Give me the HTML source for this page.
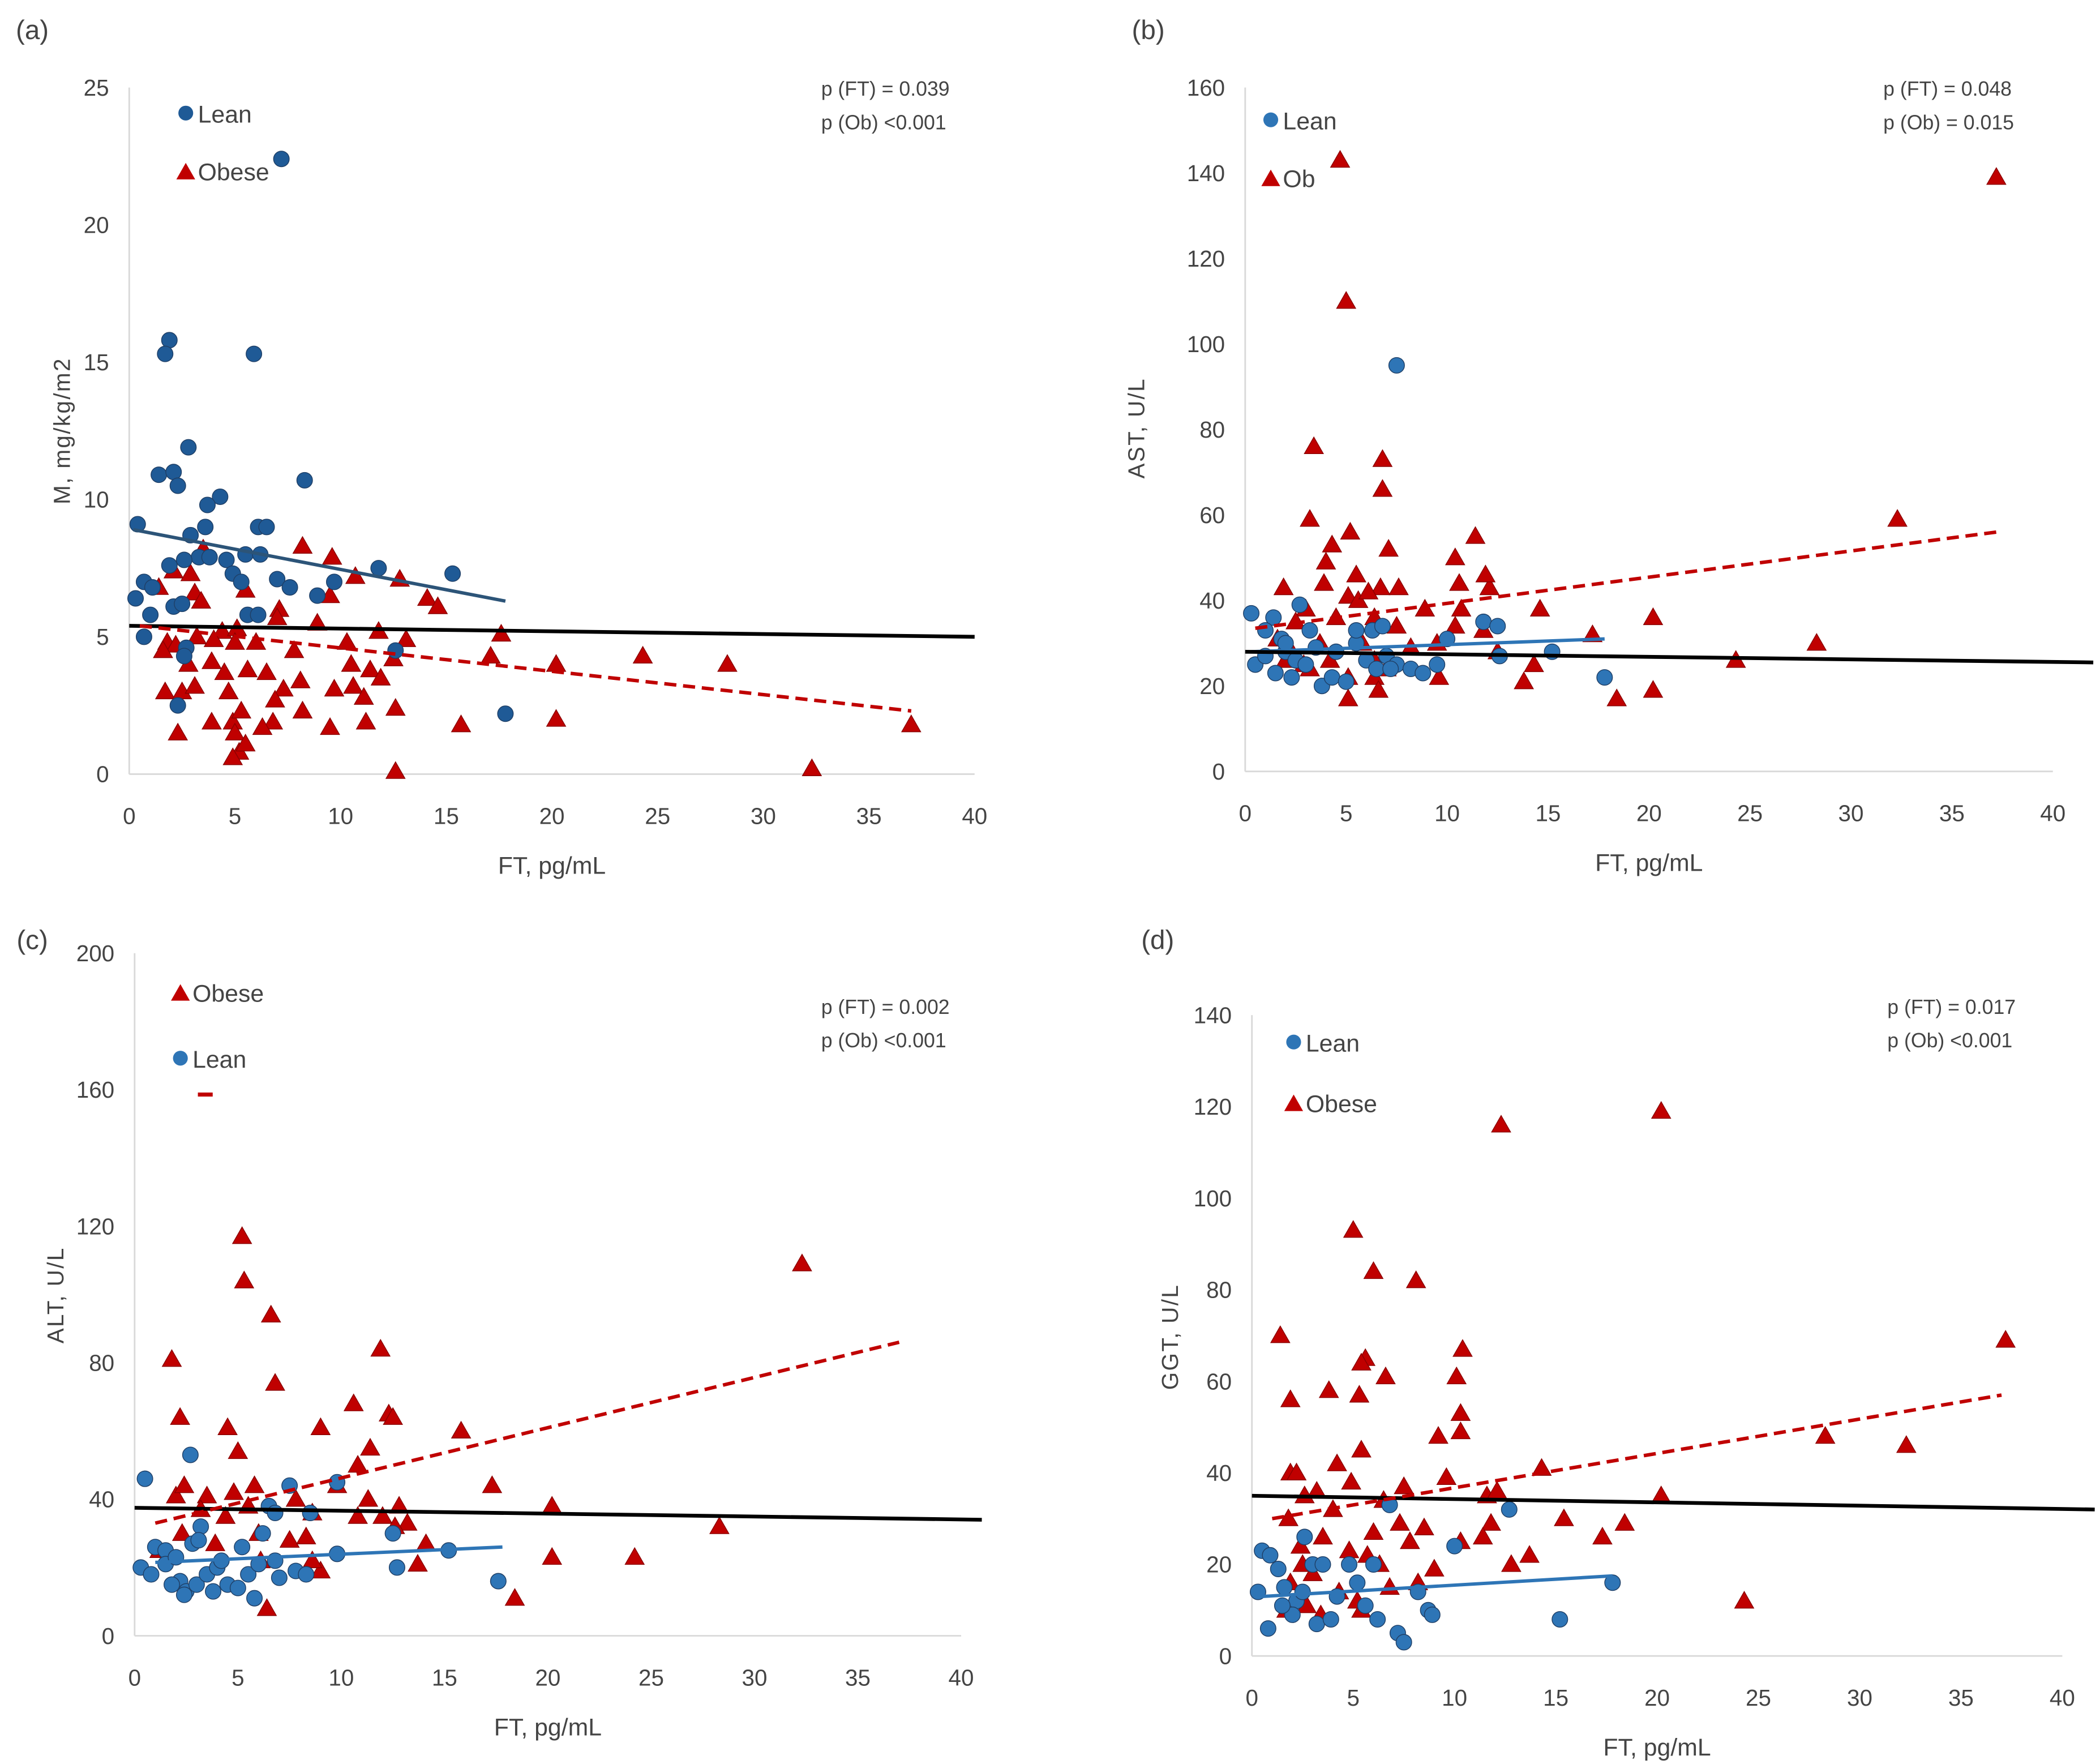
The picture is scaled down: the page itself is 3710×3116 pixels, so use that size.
<!DOCTYPE html>
<html><head><meta charset="utf-8"><style>
html,body{margin:0;padding:0;background:#fff;}
svg{display:block;}
text{font-family:"Liberation Sans Narrow","Liberation Sans",sans-serif;fill:#444;}
</style></head><body>
<svg id="fig" width="3710" height="3116" viewBox="0 0 1560 1310.24" preserveAspectRatio="none" xmlns="http://www.w3.org/2000/svg"></svg>
<script>
// ---------- data ----------
const aLeanX=[7.2,1.9,1.7,5.9,1.4,2.1,2.3,2.8,8.3,4.3,3.7,0.4,3.6,6.1,6.5,2.9,3.3,3.8,4.6,5.5,6.2,1.9,2.6,4.9,5.3,7,7.6,9.7,11.8,15.3,0.7,1.1,2.1,2.5,8.9,0.3,1.0,5.6,6.1,0.7,2.7,2.6,2.3,12.6,17.8];
const aLeanY=[22.4,15.8,15.3,15.3,10.9,11,10.5,11.9,10.7,10.1,9.8,9.1,9,9,9,8.7,7.9,7.9,7.8,8,8,7.6,7.8,7.3,7,7.1,6.8,7,7.5,7.3,7,6.8,6.1,6.2,6.5,6.4,5.8,5.8,5.8,5,4.6,4.3,2.5,4.5,2.2];
const aObX=[8.2,9.6,3.5,2.1,2.9,1.4,10.7,12.8,14.1,14.6,3.1,5.5,9.5,3.4,7.1,8.9,11.8,7,17.6,4.4,3.2,5.1,1.8,2.2,1.6,4,5,6,7.8,10.3,12.5,13.1,17.1,2.8,3.9,4.5,5.6,6.5,7.3,8.1,10.5,11.4,11.9,20.2,24.3,28.3,1.7,2.5,3.1,4.7,6.9,8.2,9.7,10.6,11.1,12.6,3.9,4.9,5.3,6.8,9.5,11.2,15.7,20.2,2.3,5,5.2,4.9,5.5,6.3,12.6,32.3,37];
const aObY=[8.3,7.9,8.2,7.4,7.3,6.8,7.2,7.1,6.4,6.1,6.6,6.7,6.5,6.3,6,5.5,5.2,5.7,5.1,5.2,5,5.3,4.8,4.7,4.5,4.9,4.8,4.8,4.5,4.8,4.2,4.9,4.3,4,4.1,3.7,3.8,3.7,3.1,3.4,4,3.8,3.5,4,4.3,4,3,3,3.2,3,2.7,2.3,3.1,3.2,2.8,2.4,1.9,1.9,2.3,1.9,1.7,1.9,1.8,2,1.5,1.5,0.8,0.6,1.1,1.7,0.1,0.2,1.8];
const aLines=[[0.2,8.9,17.8,6.3],[0,5.4,40,5.0],[0.5,5.4,37,2.3]];

const bLeanX=[0.5,1,0.3,1.4,2.7,1,1.8,3.2,2,2.5,3.5,1.5,2.3,3.8,4.3,5,4.5,5.5,6,6.5,7,7.5,6.3,7.2,8.2,8.8,9.5,10,11.8,12.5,12.6,15.2,17.8,7.5,2,3,5.5,6.8];
const bLeanY=[25,27,37,36,39,33,31,33,28,26,29,23,22,20,22,21,28,30,26,24,27,25,33,24,24,23,25,31,35,34,27,28,22,95,30,25,33,34];
const bObX=[4.7,5,37.2,3.4,6.8,6.8,3.2,32.3,5.2,4.3,7.1,11.4,4,10.4,5.5,3.9,1.9,6.7,7.6,10.6,12.1,11.9,5.1,5.6,6.1,3,8.9,10.7,14.6,20.2,4.5,6.4,2.5,7.5,10.4,11.8,17.2,1.6,3.7,5.8,8.2,9.5,28.3,2,4.2,6.4,12.5,14.3,24.3,2.9,5.1,6.4,9.6,13.8,6.6,5.1,18.4,20.2,2.3,7,3.2];
const bObY=[143,110,139,76,73,66,59,59,56,53,52,55,49,50,46,44,43,43,43,44,43,46,41,40,42,38,38,38,38,36,36,36,35,34,34,33,32,31,30,30,29,30,30,26,26,26,28,25,26,25,22,22,22,21,19,17,17,19,28,24,24];
const bLines=[[0.3,28,17.8,31],[0,28,42,25.5],[0.5,33.5,37.2,56]];

const cLeanX=[0.5,2.7,7.5,9.8,6.5,6.8,8.5,3.2,6.2,12.5,2.8,5.2,1,1.5,0.3,0.8,1.5,2,2.2,2.5,3,3.5,4,4.5,5,5.5,6,7,7.8,8.3,9.8,12.7,15.2,17.6,1.8,3.8,2.4,5.8,6.8,4.2,3.1];
const cLeanY=[46,53,44,45,38,36,36,32,30,30,27,26,26,25,20,18,21,23,16,13,15,18,20,15,14,18,21,17,19,18,24,20,25,16,15,13,12,11,22,22,28];
const cObX=[1.8,5.2,5.3,6.6,6.8,2.2,4.5,5,9,10.6,11.9,12.3,12.5,15.8,11.4,10.8,3.5,2,4.8,5.8,7.8,9.8,11.3,8.6,5.5,3.2,2.4,12,12.8,13.2,17.3,20.2,12.6,14.1,7.5,8.3,2.3,1.2,3.9,6,9,6.1,13.7,20.2,24.2,28.3,18.4,6.4,32.3,8.6,4.4,10.8];
const cObY=[81,117,104,94,74,64,61,54,61,68,84,65,64,60,55,50,41,41,42,44,40,44,40,36,38,37,44,35,38,33,44,38,32,27,28,29,30,25,27,30,19,22,21,23,23,32,11,8,109,22,35,35];
const cLines=[[1,21.5,17.8,26],[0,37.5,41,34],[1,33,37,86]];

const dLeanX=[0.5,0.9,1.3,0.3,0.8,1.6,2.2,2.5,3,3.5,2.6,4.8,6,6.8,5.2,5.6,6.2,7.2,7.5,8.7,8.9,10,12.7,15.2,17.8,2,3.2,3.9,1.5,4.2,8.2];
const dLeanY=[23,22,19,14,6,15,12,14,20,20,26,20,20,33,16,11,8,5,3,10,9,24,32,8,16,9,7,8,11,13,14];
const dObX=[12.3,20.2,5,6,8.1,1.4,37.2,10.4,5.6,5.4,6.6,10.1,1.9,3.8,5.3,10.3,10.3,9.2,28.3,32.3,5.4,4.2,1.9,2.2,7.5,9.6,14.3,3.2,2.6,6.5,4.9,11.6,12.1,20.2,15.4,18.4,17.3,11.8,8.5,4,1.8,3.5,6,7.3,2.4,4.8,5.7,7.8,10.3,11.4,2.5,6.3,13.7,12.8,3,1.9,4.3,5.2,6.8,2.7,3.4,24.3,1.7,9,5.4,8.2];
const dObY=[116,119,93,84,82,70,69,67,65,64,61,61,56,58,57,53,49,48,48,46,45,42,40,40,37,39,41,36,35,34,38,35,36,35,30,29,26,29,28,32,30,26,27,29,24,23,22,25,25,26,20,20,22,20,18,16,14,12,15,11,9,12,10,19,10,16];
const dLines=[[0.5,13,17.8,17.5],[0,35,41.6,32],[1,30,37,57]];

const xTicks=[0,5,10,15,20,25,30,35,40];
const aYTicks=[0,5,10,15,20,25];
const bYTicks=[0,20,40,60,80,100,120,140,160];
const cYTicks=[0,40,80,120,160,200];
const dYTicks=[0,20,40,60,80,100,120,140];

// ---------- drawing ----------
const NS="http://www.w3.org/2000/svg";
const svg=document.getElementById('fig');
function mk(tag,attrs,parent){const e=document.createElementNS(NS,tag);for(const k in attrs)e.setAttribute(k,attrs[k]);(parent||svg).appendChild(e);return e;}
function txt(s,x,y,size,parent,anchor,extra){const t=mk('text',Object.assign({x:x,y:y,'font-size':size,'text-anchor':anchor||'middle'},extra||{}),parent);t.textContent=s;return t;}

function panel(cfg){
  const g=mk('g',{});
  
  
  const sx=v=>cfg.x0+(v/40)*(cfg.x1-cfg.x0);
  const sy=v=>cfg.y0-(v/cfg.ymax)*(cfg.y0-cfg.y1);
  const ax=mk('line',{x1:cfg.x0,y1:cfg.y1,x2:cfg.x0,y2:cfg.y0,stroke:'#d9d9d9','stroke-width':1.2},g);
  
  const bx=mk('line',{x1:cfg.x0,y1:cfg.y0,x2:cfg.x1,y2:cfg.y0,stroke:'#d9d9d9','stroke-width':1.2},g);
  
  cfg.yTicks.forEach(v=>{const t=txt(String(v),cfg.x0-15,sy(v)+6,17,g,'end');});
  xTicks.forEach(v=>{const t=txt(String(v),sx(v),cfg.y0+37,17,g);});
  const xt=txt('FT, pg/mL',(cfg.x0+cfg.x1)/2,cfg.y0+74,18,g);
  const yt=txt(cfg.ytitle,0,0,17,g,'middle',{transform:'translate('+cfg.ytx+','+cfg.yty+') rotate(-90)','font-family':'"Liberation Sans",sans-serif','letter-spacing':'1'});
  
  const pl=txt(cfg.label,cfg.lx,cfg.ly,20,g,'middle',{fill:'#222'});
  const p1=txt(cfg.p1,cfg.px,cfg.py,15,g,'start',{fill:'#222'});
  const p2=txt(cfg.p2,cfg.px,cfg.py+25,15,g,'start',{fill:'#222'});
  // points
  const tri=(x,y)=>{const s=7;return (x)+','+(y-s)+' '+(x-s)+','+(y+s*0.75)+' '+(x+s)+','+(y+s*0.75);};
  cfg.obX.forEach((v,i)=>{const p=mk('polygon',{points:tri(sx(v),sy(cfg.obY[i])),fill:'#c00000',stroke:'#8b0000','stroke-width':0.6},g);
    });
  cfg.leanX.forEach((v,i)=>{const c=mk('circle',{cx:sx(v),cy:sy(cfg.leanY[i]),r:5.8,fill:cfg.leanColor,stroke:'#1f3f66','stroke-width':0.6},g);
    });
  // lines
  const L=cfg.lines;
  const l1=mk('line',{x1:sx(L[0][0]),y1:sy(L[0][1]),x2:sx(L[0][2]),y2:sy(L[0][3]),stroke:cfg.leanLine,'stroke-width':2.5},g);
  
  const l2=mk('line',{x1:sx(L[1][0]),y1:sy(L[1][1]),x2:sx(L[1][2]),y2:sy(L[1][3]),stroke:'#000','stroke-width':2.8},g);
  
  const l3=mk('line',{x1:sx(L[2][0]),y1:sy(L[2][1]),x2:sx(L[2][2]),y2:sy(L[2][3]),stroke:'#c00000','stroke-width':2.6,'stroke-dasharray':'9,5'},g);
  
  // legend
  cfg.legend.forEach(e=>{
    const lg=mk('g',{},g);
    
    
    if(e.k==='c')mk('circle',{cx:e.x,cy:e.y,r:5.5,fill:cfg.leanColor},lg);
    else mk('polygon',{points:tri(e.x,e.y+1),fill:'#c00000'},lg);
    txt(e.t,e.x+9,e.y+7,18,lg,'start');
  });
}

panel({name:'panel-a',x0:96,x1:724,y0:575,y1:65,ymax:25,yTicks:aYTicks,ytitle:'M, mg/kg/m2',ytx:52,yty:320,label:'(a)',lx:24,ly:29,
  p1:'p (FT) = 0.039',p2:'p (Ob) <0.001',px:610,py:71,leanX:aLeanX,leanY:aLeanY,obX:aObX,obY:aObY,lines:aLines,
  leanColor:'#1f5a96',leanLine:'#2c5478',legend:[{k:'c',x:138,y:84,t:'Lean'},{k:'t',x:138,y:127,t:'Obese'}]});
panel({name:'panel-b',x0:925,x1:1525,y0:573,y1:65,ymax:160,yTicks:bYTicks,ytitle:'AST, U/L',ytx:850,yty:318,label:'(b)',lx:853,ly:29,
  p1:'p (FT) = 0.048',p2:'p (Ob) = 0.015',px:1399,py:71,leanX:bLeanX,leanY:bLeanY,obX:bObX,obY:bObY,lines:bLines,
  leanColor:'#2e75b6',leanLine:'#2e75b6',legend:[{k:'c',x:944,y:89,t:'Lean'},{k:'t',x:944,y:132,t:'Ob'}]});
panel({name:'panel-c',x0:100,x1:714,y0:1215,y1:708,ymax:200,yTicks:cYTicks,ytitle:'ALT, U/L',ytx:47,yty:962,label:'(c)',lx:24,ly:705,
  p1:'p (FT) = 0.002',p2:'p (Ob) <0.001',px:610,py:753,leanX:cLeanX,leanY:cLeanY,obX:cObX,obY:cObY,lines:cLines,
  leanColor:'#2e75b6',leanLine:'#2e75b6',legend:[{k:'t',x:134,y:737,t:'Obese'},{k:'c',x:134,y:786,t:'Lean'}]});
panel({name:'panel-d',x0:930,x1:1532,y0:1230,y1:754,ymax:140,yTicks:dYTicks,ytitle:'GGT, U/L',ytx:875,yty:993,label:'(d)',lx:860,ly:705,
  p1:'p (FT) = 0.017',p2:'p (Ob) <0.001',px:1402,py:753,leanX:dLeanX,leanY:dLeanY,obX:dObX,obY:dObY,lines:dLines,
  leanColor:'#2e75b6',leanLine:'#2e75b6',legend:[{k:'c',x:961,y:774,t:'Lean'},{k:'t',x:961,y:819,t:'Obese'}]});
const dash=mk('line',{x1:147,y1:813,x2:158,y2:813,stroke:'#c00000','stroke-width':3});


</script>
</body></html>
